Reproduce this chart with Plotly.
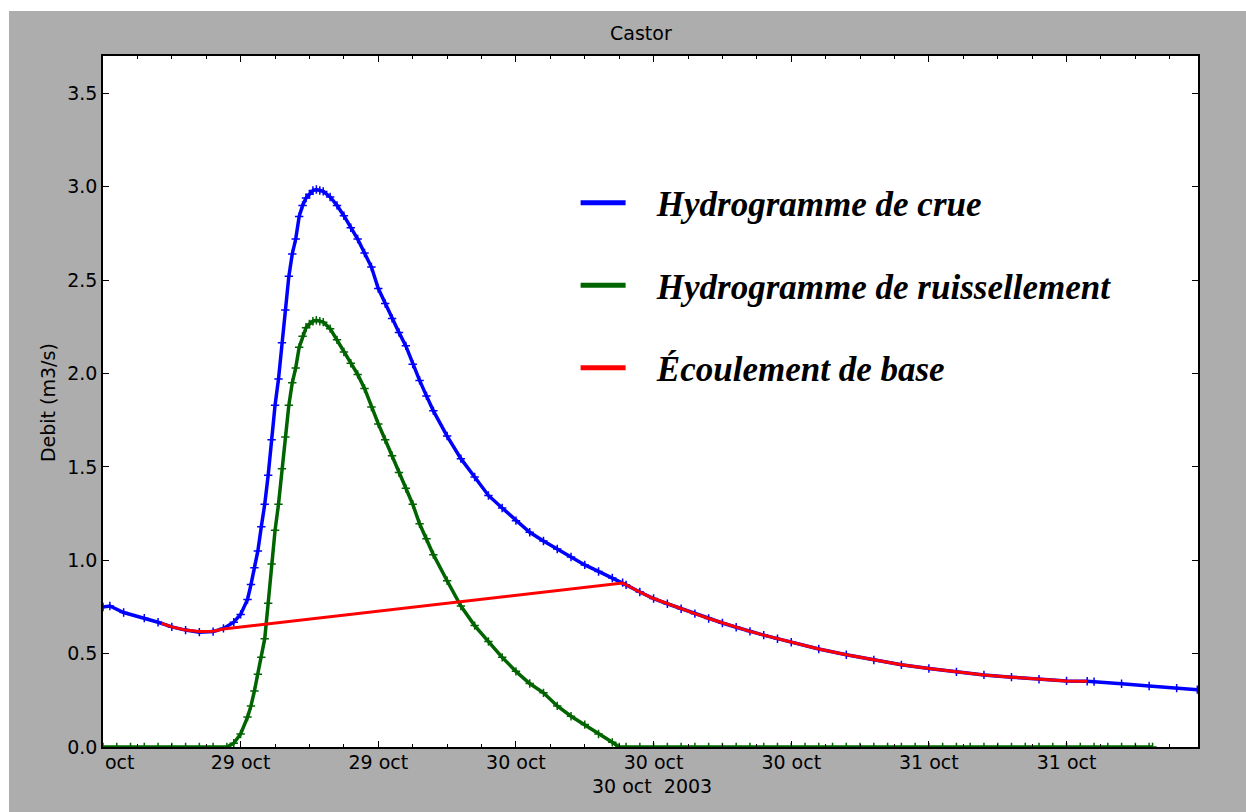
import pandas as pd
import plotly.graph_objects as go

# ---------------- data ----------------
START = pd.Timestamp("2003-10-28 20:00")

# Hydrogramme de crue (total flow), hours since START / m3/s
crue_h = [0, 0.5, 1.5, 3, 4, 5, 6, 7, 8, 8.75,
          9.5, 10, 10.5, 10.75, 11, 11.25, 11.5, 11.75, 12, 12.25,
          12.5, 12.75, 13, 13.25, 13.5, 13.75, 14, 14.25, 14.5, 14.75,
          15, 15.25, 15.5, 15.75, 16, 16.5, 17, 17.5, 18, 18.5,
          19, 19.5, 20, 20.5, 21, 21.5, 22, 22.5, 23, 23.5,
          24, 25, 26, 27, 28, 29, 30, 31, 32, 33,
          34, 35, 36, 37, 37.75, 38, 39, 40, 41, 42,
          43, 44, 45, 46, 47, 48, 49, 50, 52, 54,
          56, 58, 60, 62, 64, 66, 68, 70, 71.5, 72,
          74, 76, 78, 79.5]
crue_q = [0.75, 0.755, 0.72, 0.69, 0.668, 0.643, 0.626, 0.615, 0.618, 0.635,
          0.668, 0.71, 0.79, 0.87, 0.96, 1.05, 1.18, 1.30, 1.455, 1.645,
          1.83, 1.97, 2.165, 2.34, 2.52, 2.64, 2.72, 2.84, 2.90, 2.94,
          2.96, 2.98, 2.985, 2.98, 2.975, 2.945, 2.90, 2.845, 2.78, 2.72,
          2.645, 2.57, 2.455, 2.375, 2.295, 2.22, 2.148, 2.05, 1.963, 1.88,
          1.80, 1.665, 1.544, 1.446, 1.347, 1.28, 1.212, 1.15, 1.103, 1.06,
          1.017, 0.975, 0.94, 0.905, 0.88, 0.868, 0.83, 0.795, 0.767, 0.74,
          0.714, 0.688, 0.664, 0.641, 0.619, 0.599, 0.58, 0.561, 0.525, 0.494,
          0.466, 0.44, 0.42, 0.402, 0.386, 0.374, 0.363, 0.354, 0.352, 0.35,
          0.339, 0.327, 0.315, 0.307]

# Hydrogramme de ruissellement (runoff)
ruis_h = [0, 1, 2, 3, 4, 5, 6, 7, 8, 9,
          9.5, 10, 10.5, 10.75, 11, 11.25, 11.5, 11.75, 12, 12.25,
          12.5, 12.75, 13, 13.25, 13.5, 13.75, 14, 14.25, 14.5, 14.75,
          15, 15.25, 15.5, 15.75, 16, 16.5, 17, 17.5, 18, 18.5,
          19, 19.5, 20, 20.5, 21, 21.5, 22, 22.5, 23, 23.5,
          24, 25, 26, 27, 28, 29, 30, 31, 32, 33,
          34, 35, 36, 37, 37.5, 38, 39, 40, 41, 42,
          43, 44, 45, 46, 47, 48, 49, 50, 51, 52,
          53, 54, 55, 56, 57, 58, 59, 60, 61, 62,
          63, 64, 65, 66, 67, 68, 69, 70, 71, 72,
          73, 74, 75, 76, 76.25]
ruis_q = [0, 0, 0, 0, 0, 0, 0, 0, 0, 0,
          0.02, 0.07, 0.16, 0.22, 0.30, 0.39, 0.48, 0.58, 0.77, 0.98,
          1.16, 1.30, 1.49, 1.66, 1.83, 1.95, 2.03, 2.14, 2.20, 2.245,
          2.265, 2.28, 2.285, 2.28, 2.275, 2.24, 2.18, 2.115, 2.055, 1.995,
          1.92, 1.82, 1.73, 1.645, 1.56, 1.47, 1.385, 1.30, 1.195, 1.115,
          1.03, 0.89, 0.755, 0.65, 0.565, 0.48, 0.405, 0.34, 0.29, 0.22,
          0.165, 0.12, 0.07, 0.025, 0, 0, 0, 0, 0, 0,
          0, 0, 0, 0, 0, 0, 0, 0, 0, 0,
          0, 0, 0, 0, 0, 0, 0, 0, 0, 0,
          0, 0, 0, 0, 0, 0, 0, 0, 0, 0,
          0, 0, 0, 0, 0]

# Ecoulement de base (baseflow)
base_h = [4.25, 5, 6, 7, 8, 8.75, 37.75, 38, 39, 40,
          41, 42, 43, 44, 45, 46, 47, 48, 49, 50,
          52, 54, 56, 58, 60, 62, 64, 66, 68, 70, 71.5]
base_q = [0.662, 0.643, 0.626, 0.618, 0.62, 0.632, 0.878, 0.868, 0.83, 0.795,
          0.767, 0.74, 0.714, 0.688, 0.664, 0.641, 0.619, 0.599, 0.58, 0.561,
          0.525, 0.494, 0.466, 0.44, 0.42, 0.402, 0.386, 0.374, 0.363, 0.354, 0.352]

series_names = ["Hydrogramme de crue", "Hydrogramme de ruissellement", "Écoulement de base"]
series_colors = ["#0000ff", "#006400", "#ff0000"]

tick_hours = [0, 10, 20, 30, 40, 50, 60, 70]
tick_labels = ["", "29 oct", "29 oct", "30 oct", "30 oct", "30 oct", "31 oct", "31 oct"]
first_tick_label = "oct"
offset_label = "30 oct\u00a0\u00a02003"
y_ticks = [0.0, 0.5, 1.0, 1.5, 2.0, 2.5, 3.0, 3.5]
x_end_hours = 79.55
y_max = 3.7


def to_time(hours):
    return [START + pd.Timedelta(hours=h) for h in hours]


fig = go.Figure()

mk = dict(symbol="cross-thin", size=6)
fig.add_trace(go.Scatter(x=to_time(crue_h), y=crue_q, mode="lines+markers",
                         line=dict(color=series_colors[0], width=3.5),
                         marker=dict(**mk, color=series_colors[0],
                                     line=dict(width=1.5, color=series_colors[0])),
                         showlegend=False, name=series_names[0]))
fig.add_trace(go.Scatter(x=to_time(ruis_h), y=ruis_q, mode="lines+markers",
                         line=dict(color=series_colors[1], width=3.5),
                         marker=dict(**mk, color=series_colors[1],
                                     line=dict(width=1.5, color=series_colors[1])),
                         showlegend=False, name=series_names[1]))
fig.add_trace(go.Scatter(x=to_time(base_h), y=base_q, mode="lines",
                         line=dict(color=series_colors[2], width=3),
                         showlegend=False, name=series_names[2]))

# legend entries (leading spaces give the gap between sample line and text)
PAD = "\u00a0\u00a0\u00a0"
for i, (nm, col) in enumerate(zip(series_names, series_colors)):
    fig.add_trace(go.Scatter(x=[None], y=[None], mode="lines",
                             line=dict(color=col, width=5), name=PAD + nm,
                             legendgroup=f"g{i}", showlegend=True))

axis_font = dict(family="DejaVu Sans", size=19, color="black")

fig.update_layout(
    width=1246, height=812, autosize=False,
    margin=dict(l=103, r=48, t=56, b=65, pad=0),
    paper_bgcolor="#adadad", plot_bgcolor="white",
    legend=dict(x=0.4316, y=0.83, xanchor="left", yanchor="top",
                bgcolor="rgba(0,0,0,0)", borderwidth=0,
                tracegroupgap=34, itemwidth=45,
                font=dict(family="Liberation Serif", size=35, color="black",
                          style="italic", weight="bold")),
    xaxis=dict(type="date",
               range=[START, START + pd.Timedelta(hours=x_end_hours)],
               tickmode="array", tickvals=to_time(tick_hours), ticktext=tick_labels,
               ticks="inside", ticklen=6, tickwidth=1, tickcolor="black",
               mirror="allticks", showline=True, linecolor="black", linewidth=1.5,
               showgrid=False, zeroline=False, tickfont=axis_font,
               ticklabelstandoff=-3,
               minor=dict(ticks="inside", ticklen=3, tickwidth=1, tickcolor="black",
                          tick0=START, dtick=2.5 * 3600 * 1000, showgrid=False)),
    yaxis=dict(range=[0, y_max], tickmode="array", tickvals=y_ticks,
               tickformat=".1f", ticks="inside", ticklen=6, tickwidth=1,
               tickcolor="black", mirror="allticks", showline=True,
               linecolor="black", linewidth=1.5, showgrid=False, zeroline=False,
               tickfont=axis_font),
    shapes=[
        dict(type="rect", xref="paper", yref="paper", x0=-0.2, x1=-0.08584,
             y0=-0.2, y1=1.3, fillcolor="white", line=dict(width=0), layer="above"),
        dict(type="rect", xref="paper", yref="paper", x0=-0.2, x1=1.2,
             y0=1.06512, y1=1.3, fillcolor="white", line=dict(width=0), layer="above"),
    ],
    annotations=[
        dict(text="Castor", xref="paper", yref="paper", x=0.4913, y=1.0333,
             xanchor="center", yanchor="middle", showarrow=False, font=axis_font),
        dict(text="Debit (m3/s)", xref="paper", yref="paper", x=-0.0502, y=0.4978,
             xanchor="center", yanchor="middle", textangle=-90, showarrow=False,
             font=axis_font),
        dict(text=offset_label, xref="paper", yref="paper", x=0.5014, y=-0.0564,
             xanchor="center", yanchor="middle", showarrow=False, font=axis_font),
        dict(text=first_tick_label, xref="x", yref="paper", x=START, y=-0.0217,
             xanchor="left", yanchor="middle", showarrow=False, font=axis_font),
    ],
)

fig.write_html("out.html")
